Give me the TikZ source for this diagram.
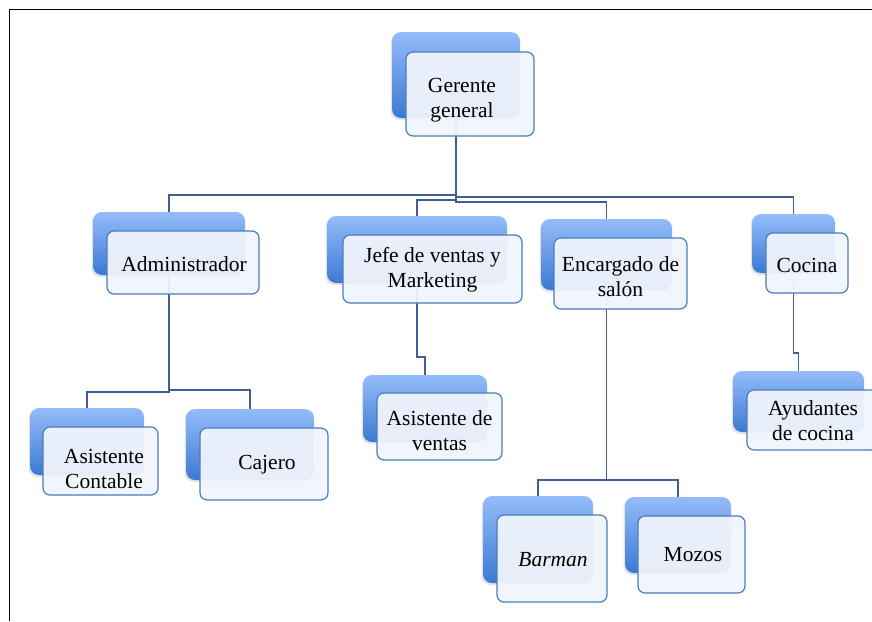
\documentclass[tikz,border=0pt]{standalone}
\usepackage{fontspec}
\setmainfont{Liberation Serif}
\usetikzlibrary{shadows}
\definecolor{backtop}{HTML}{94BCFA}
\definecolor{backbot}{HTML}{3C79D3}
\definecolor{frontfill}{HTML}{F1F5FC}
\definecolor{frontline}{HTML}{4A7EBB}
\definecolor{connline}{HTML}{3E5F94}
\begin{document}
\begin{tikzpicture}[x=1pt,y=-1pt,
 backbox/.style={rounded corners=9pt, top color=backtop, bottom color=backbot, draw=none, inner sep=0pt,
   drop shadow={shadow xshift=-1.5pt, shadow yshift=-2pt, opacity=0.22}},
 frontbox/.style={rounded corners=7pt, fill=frontfill, fill opacity=0.94, draw=frontline,
   line width=1.2pt, inner sep=0pt},
 txt/.style={align=center, inner sep=0pt, font=\fontsize{21.5}{25}\selectfont},
 conn/.style={draw=connline, line width=1.3pt}
]
\useasboundingbox (0,0) rectangle (872,621);
\fill[white] (0,0) rectangle (872,621);

% back boxes
\node[backbox, minimum width=128pt, minimum height=86pt] (gB) at (456,75) {};
\node[backbox, minimum width=152pt, minimum height=63pt] (aB) at (169,243.5) {};
\node[backbox, minimum width=180pt, minimum height=67pt] (jB) at (417,249.5) {};
\node[backbox, minimum width=131pt, minimum height=71pt] (eB) at (606.5,254.5) {};
\node[backbox, minimum width=83pt, minimum height=59pt] (cB) at (793.5,243.5) {};
\node[backbox, minimum width=131pt, minimum height=61pt] (ayB) at (798.5,401.5) {};
\node[backbox, minimum width=124pt, minimum height=67pt] (avB) at (425,408.5) {};
\node[backbox, minimum width=114pt, minimum height=67pt] (acB) at (87,441.5) {};
\node[backbox, minimum width=128pt, minimum height=71pt] (cjB) at (250,444.5) {};
\node[backbox, minimum width=110pt, minimum height=87pt] (bB) at (538,539.5) {};
\node[backbox, minimum width=106pt, minimum height=76pt] (mB) at (678,535) {};

% connectors
\draw[conn] (gB.south) -- (gB.south |- 0,202) -| (eB.north);
\draw[conn] (gB.south |- 0,195) -| (aB.north);
\draw[conn] (gB.south |- 0,197) -| (cB.north);
\draw[conn] (gB.south |- 0,200) -| (jB.north);
\draw[conn] (aB.south) -- (aB.south |- 0,392) -| (acB.north);
\draw[conn] (aB.south |- 0,390) -| (cjB.north);
\draw[conn] (jB.south) -- (jB.south |- 0,357) -| (avB.north);
\draw[conn] (eB.south) -- (eB.south |- 0,480) -| (bB.north);
\draw[conn] (eB.south |- 0,480) -| (mB.north);
\draw[conn] (cB.south) -- (cB.south |- 0,353) -| (ayB.north);

% front boxes
\node[frontbox, minimum width=128pt, minimum height=84pt] (g) at (470,94) {};
\node[frontbox, minimum width=152pt, minimum height=63pt] (a) at (183,262.5) {};
\node[frontbox, minimum width=179pt, minimum height=68pt] (j) at (432.5,269) {};
\node[frontbox, minimum width=133pt, minimum height=71pt] (e) at (620.5,273.5) {};
\node[frontbox, minimum width=82pt, minimum height=60pt] (c) at (807,263) {};
\node[frontbox, minimum width=131pt, minimum height=60pt] (ay) at (812.5,420) {};
\node[frontbox, minimum width=125pt, minimum height=67pt] (av) at (439.5,426.5) {};
\node[frontbox, minimum width=115pt, minimum height=68pt] (ac) at (100.5,461) {};
\node[frontbox, minimum width=128pt, minimum height=72pt] (cj) at (264,464) {};
\node[frontbox, minimum width=110pt, minimum height=87pt] (b) at (552,558.5) {};
\node[frontbox, minimum width=107pt, minimum height=77pt] (m) at (691.5,554.5) {};

% texts
\node[txt] (gt) at (462,100) {Gerente\\general};
\node[txt] (at) at (184,264) {Administrador};
\node[txt] (jt) at (432.5,270) {Jefe de ventas y\\Marketing};
\node[txt] (et) at (620.5,277) {Encargado de\\salón};
\node[txt] (ct) at (807,265) {Cocina};
\node[txt] (ayt) at (813,420.5) {Ayudantes\\de cocina};
\node[txt] (avt) at (439.5,430.5) {Asistente de\\ventas};
\node[txt] (act) at (104,469) {Asistente\\Contable};
\node[txt] (cjt) at (267,465) {Cajero};
\node[txt] (bt) at (553,560) {\textit{Barman}};
\node[txt] (mt) at (693,555) {Mozos};

% page frame
\draw[black, line width=1.5pt] (9.5,621) -- (9.5,9.5) -- (872,9.5);
\end{tikzpicture}
\end{document}
